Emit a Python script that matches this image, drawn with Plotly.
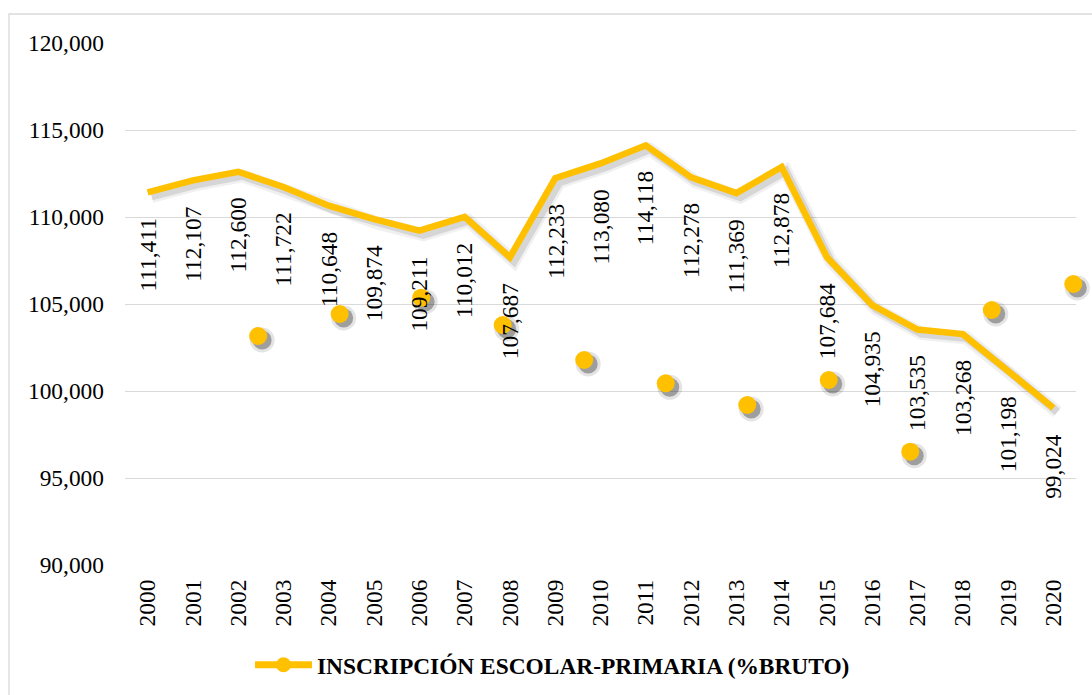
import plotly.graph_objects as go

years = list(range(2000, 2021))
year_labels = [str(y) for y in years]
enrolment = [111411, 112107, 112600, 111722, 110648, 109874, 109211, 110012, 107687,
             112233, 113080, 114118, 112278, 111369, 112878, 107684, 104935, 103535,
             103268, 101198, 99024]

# stray marker series as it appears in the picture (positions)
dot_x = [2002.44, 2004.24, 2006.04, 2007.84, 2009.64, 2011.44, 2013.24, 2015.04,
         2016.84, 2018.64, 2020.44]
dot_y = [103161, 104425, 105362, 103793, 101782, 100443, 99195, 100632, 96511,
         104655, 106149]

y_ticks = [90000, 95000, 100000, 105000, 110000, 115000, 120000]
series_name = "INSCRIPCIÓN ESCOLAR-PRIMARIA (%BRUTO)"

GOLD = "#FFC000"
FONT = "Liberation Serif"
FS = 23.4

W, H = 1092, 695
ML, MR, MT, MB = 125, 12, 43, 126
PW = W - ML - MR
PH = H - MT - MB
SH = 4  # shadow offset in px

fig = go.Figure()

# legend entry (lives on the base subplot so its axes and grid get drawn)
fig.add_trace(go.Scatter(x=[None], y=[None], mode="lines+markers", xaxis="x", yaxis="y",
                         name=series_name, line=dict(color=GOLD, width=7),
                         marker=dict(color=GOLD, size=15)))

# soft shadow layer (x2/y2)
for lw, la, ms, ma in [(13, 0.07, 25, 0.12), (8, 0.13, 19, 0.35)]:
    fig.add_trace(go.Scatter(x=years, y=enrolment, mode="lines", xaxis="x2", yaxis="y2",
                             line=dict(color=f"rgba(40,40,40,{la})", width=lw),
                             showlegend=False, hoverinfo="skip", cliponaxis=False))
    fig.add_trace(go.Scatter(x=dot_x, y=dot_y, mode="markers", xaxis="x2", yaxis="y2",
                             marker=dict(color=f"rgba(30,30,30,{ma})", size=ms,
                                         line=dict(width=0)),
                             showlegend=False, hoverinfo="skip", cliponaxis=False))

# main layer (x3/y3)
fig.add_trace(go.Scatter(x=years, y=enrolment, mode="lines", xaxis="x3", yaxis="y3",
                         line=dict(color=GOLD, width=6.5), showlegend=False,
                         cliponaxis=False))
fig.add_trace(go.Scatter(x=dot_x, y=dot_y, mode="markers", xaxis="x3", yaxis="y3",
                         marker=dict(color=GOLD, size=18, line=dict(width=0)),
                         showlegend=False, cliponaxis=False))

annotations = []
for yr, v in zip(years, enrolment):
    annotations.append(dict(x=yr, y=v, xref="x3", yref="y3", text=f"{v:,}",
                            textangle=-90, showarrow=False, yanchor="top",
                            xanchor="center", yshift=-24,
                            font=dict(family=FONT, size=FS, color="black")))

xrange = [1999.5, 2020.5]
yrange = [90000, 120000]
main_xdom = [0, (PW - SH) / PW]
main_ydom = [SH / PH, 1]
sh_xdom = [SH / PW, 1]
sh_ydom = [0, (PH - SH) / PH]

fig.update_layout(
    width=W, height=H,
    margin=dict(l=ML, r=MR, t=MT, b=MB),
    paper_bgcolor="white", plot_bgcolor="rgba(0,0,0,0)",
    font=dict(family=FONT, size=FS, color="black"),
    xaxis=dict(domain=main_xdom, range=xrange, tickvals=years, ticktext=year_labels,
               tickangle=-90, showgrid=False, zeroline=False, showline=False, ticks="",
               ticklabelstandoff=9, anchor="y",
               tickfont=dict(family=FONT, size=FS, color="black")),
    yaxis=dict(domain=main_ydom, range=yrange, tickvals=y_ticks, tickformat=",",
               showgrid=True, gridcolor="#D9D9D9", gridwidth=1.3, zeroline=False,
               showline=False, ticks="", ticklabelstandoff=20, anchor="x",
               tickfont=dict(family=FONT, size=FS, color="black")),
    xaxis2=dict(domain=sh_xdom, range=xrange, visible=False, anchor="y2"),
    yaxis2=dict(domain=sh_ydom, range=yrange, visible=False, anchor="x2"),
    xaxis3=dict(domain=main_xdom, range=xrange, visible=False, anchor="y3"),
    yaxis3=dict(domain=main_ydom, range=yrange, visible=False, anchor="x3"),
    showlegend=True,
    legend=dict(orientation="h", xref="container", yref="container",
                x=250 / W, y=1 - 665 / H, xanchor="left", yanchor="middle",
                itemwidth=57, bgcolor="rgba(0,0,0,0)",
                font=dict(family=FONT, size=FS, color="black", weight="bold")),
    annotations=annotations,
    shapes=[dict(type="rect", xref="paper", yref="paper",
                 x0=(9 - ML) / PW, x1=(1100 - ML) / PW,
                 y0=(H - MB - 700) / PH, y1=(H - MB - 14) / PH,
                 line=dict(color="#D9D9D9", width=1.3), fillcolor="rgba(0,0,0,0)",
                 layer="below")],
)

fig.write_html("out.html", config={"displayModeBar": False},
               post_script="document.body.style.margin='0';document.body.style.overflow='hidden';")
